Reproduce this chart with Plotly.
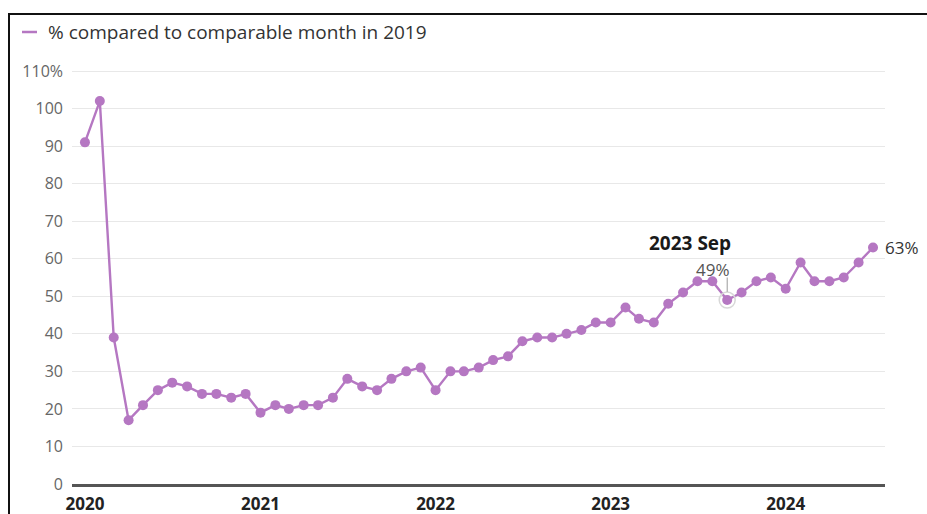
import plotly.graph_objects as go

# ---- data ----
months = [f"{y}-{m:02d}-01" for y in range(2020, 2025) for m in range(1, 13)][:55]
pct_vs_2019 = [
    91, 102, 39, 17, 21, 25, 27, 26, 24, 24, 23, 24,   # 2020
    19, 21, 20, 21, 21, 23, 28, 26, 25, 28, 30, 31,    # 2021
    25, 30, 30, 31, 33, 34, 38, 39, 39, 40, 41, 43,    # 2022
    43, 47, 44, 43, 48, 51, 54, 54, 49, 51, 54, 55,    # 2023
    52, 59, 54, 54, 55, 59, 63,                        # 2024
]
year_ticks = ["2020-01-01", "2021-01-01", "2022-01-01", "2023-01-01", "2024-01-01"]
year_labels = ["2020", "2021", "2022", "2023", "2024"]
y_ticks = [0, 10, 20, 30, 40, 50, 60, 70, 80, 90, 100, 110]
y_labels = ["0", "10", "20", "30", "40", "50", "60", "70", "80", "90", "100", "110%"]
legend_label = "% compared to comparable month in 2019"
highlight_month = "2023-09-01"
highlight_title = "2023 Sep"

PURPLE = "#b577c2"
FONT = "Open Sans"
W, H = 927, 514
ML, MR, MT, MB = 72, 42, 67, 30
PW, PH = W - ML - MR, H - MT - MB
Y_TOP = PH / ((H - MB - 71) / 110.0)  # so that 110 sits at y=71px


def px(x):
    return (x - ML) / PW


def py(y):
    return (H - MB - y) / PH


hi_idx = months.index(highlight_month)
hi_val = pct_vs_2019[hi_idx]

fig = go.Figure()
fig.add_trace(go.Scatter(
    x=months, y=pct_vs_2019, mode="lines+markers",
    line=dict(color=PURPLE, width=2.4),
    marker=dict(color=PURPLE, size=10),
    showlegend=False, hoverinfo="x+y",
))
# halo on highlighted point
fig.add_trace(go.Scatter(
    x=[highlight_month], y=[hi_val], mode="markers",
    marker=dict(color="rgba(0,0,0,0)", size=16, line=dict(color="#d8d8d8", width=1.5)),
    showlegend=False, hoverinfo="skip",
))

annotations = [
    dict(x=highlight_month, y=hi_val, xref="x", yref="y", text=f"<b>{highlight_title}</b>",
         showarrow=False, xanchor="right", yanchor="middle", xshift=6, yshift=57,
         font=dict(family=FONT, size=19, color="#1a1a1a")),
    dict(x=highlight_month, y=hi_val, xref="x", yref="y", text=f"{hi_val}%",
         showarrow=False, xanchor="right", yanchor="middle", xshift=5, yshift=31,
         font=dict(family=FONT, size=17, color="#555555")),
    dict(x=months[-1], y=pct_vs_2019[-1], xref="x", yref="y", text=f"{pct_vs_2019[-1]}%",
         showarrow=False, xanchor="left", yanchor="middle", xshift=10, yshift=0,
         font=dict(family=FONT, size=17, color="#333333")),
    dict(x=px(46), y=py(32), xref="paper", yref="paper", text=legend_label,
         showarrow=False, xanchor="left", yanchor="middle",
         font=dict(family=FONT, size=19, color="#333333")),
]

shapes = [
    # leader line for highlight
    dict(type="line", xref="x", yref="y", x0=highlight_month, x1=highlight_month,
         y0=hi_val + 2.2, y1=hi_val + 6, line=dict(color="#9a9a9a", width=1)),
    # legend swatch
    dict(type="line", xref="paper", yref="paper", x0=px(22), x1=px(37), y0=py(32), y1=py(32),
         line=dict(color=PURPLE, width=2.5)),
    # frame lines
    dict(type="line", xref="paper", yref="paper", x0=px(8), x1=px(927), y0=py(14), y1=py(14),
         line=dict(color="#111111", width=2)),
    dict(type="line", xref="paper", yref="paper", x0=px(9), x1=px(9), y0=py(14), y1=py(514),
         line=dict(color="#111111", width=2)),
]

fig.update_layout(
    width=W, height=H,
    margin=dict(l=ML, r=MR, t=MT, b=MB, pad=0, autoexpand=False),
    paper_bgcolor="white", plot_bgcolor="white",
    font=dict(family=FONT, color="#666666"),
    annotations=annotations, shapes=shapes,
    showlegend=False,
    xaxis=dict(
        type="date", range=["2019-12-05", "2024-07-26"], automargin=False,
        tickvals=year_ticks, ticktext=[f"<b>{t}</b>" for t in year_labels],
        tickfont=dict(family=FONT, size=17, color="#222222"),
        showgrid=False, zeroline=False,
        showline=True, linecolor="#555555", linewidth=2.5,
        ticks="", ticklabelstandoff=3,
    ),
    yaxis=dict(
        range=[0, Y_TOP], tickvals=y_ticks, ticktext=y_labels, automargin=False,
        tickfont=dict(family=FONT, size=16, color="#666666"),
        showgrid=True, gridcolor="#e8e8e8", gridwidth=1,
        zeroline=False, showline=False, ticks="", ticklabelstandoff=8,
    ),
)

fig.write_html(
    "out.html",
    config={"displayModeBar": False},
    post_script="document.body.style.margin='0';document.body.style.overflow='hidden';",
)
